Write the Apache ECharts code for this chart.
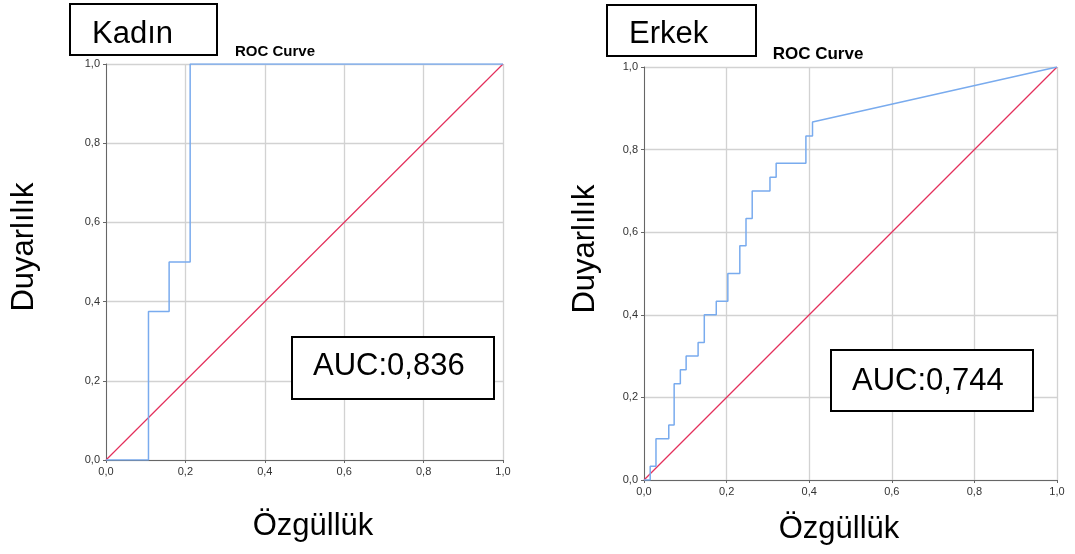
<!DOCTYPE html>
<html>
<head>
<meta charset="utf-8">
<script src="https://cdn.jsdelivr.net/npm/echarts@6/dist/echarts.min.js"></script>
<style>
  html, body { margin: 0; padding: 0; background: #fff; }
  #chart { width: 1075px; height: 554px; }
</style>
</head>
<body>
<div id="chart"></div>
<script>
// Eksen tikleri
const axisTicks = [0, 0.2, 0.4, 0.6, 0.8, 1.0]

// Kadın ROC noktaları (1 - özgüllük, duyarlılık)
const kadinFpr = [0, 0.107, 0.107, 0.159, 0.159, 0.212, 0.212, 1]
const kadinTpr = [0, 0, 0.375, 0.375, 0.5, 0.5, 1, 1]

// Erkek ROC noktaları
const erkekFpr = [0, 0.015, 0.015, 0.029, 0.029, 0.06, 0.06, 0.073, 0.073, 0.088, 0.088, 0.102, 0.102, 0.131, 0.131, 0.146, 0.146, 0.175, 0.175, 0.203, 0.203, 0.232, 0.232, 0.247, 0.247, 0.262, 0.262, 0.305, 0.305, 0.32, 0.32, 0.392, 0.392, 0.408, 0.408, 1]
const erkekTpr = [0, 0, 0.033, 0.033, 0.1, 0.1, 0.133, 0.133, 0.233, 0.233, 0.267, 0.267, 0.3, 0.3, 0.333, 0.333, 0.4, 0.4, 0.433, 0.433, 0.5, 0.5, 0.567, 0.567, 0.633, 0.633, 0.7, 0.7, 0.733, 0.733, 0.767, 0.767, 0.833, 0.833, 0.867, 1]

// Referans çizgisi
const refFpr = [0, 1]
const refTpr = [0, 1]

const groupLabels = ['Kadın', 'Erkek']
const aucLabels = ['AUC:0,836', 'AUC:0,744']
const chartTitle = 'ROC Curve'
const xName = 'Özgüllük'
const yName = 'Duyarlılık'

const FONT = '"Liberation Sans", Arial, sans-serif'
const BLUE = '#79abee'
const RED = '#e3305c'

const toPairs = (xs, ys) => xs.map((x, i) => [x, ys[i]])
const fmt = (v) => v.toFixed(1).replace('.', ',')

const makeAxis = (gridIndex) => ({
  type: 'value',
  gridIndex,
  min: axisTicks[0],
  max: axisTicks[axisTicks.length - 1],
  interval: 0.2,
  axisLine: { show: true, lineStyle: { color: '#666', width: 1 } },
  axisTick: { show: true, length: 3, lineStyle: { color: '#666' } },
  axisLabel: { fontFamily: FONT, fontSize: 11, color: '#333', margin: 6, formatter: fmt },
  splitLine: { show: true, lineStyle: { color: '#d2d2d2', width: 1.3 } },
})

const boxText = (x, y, w, h, label, tx, ty) => [
  {
    type: 'rect',
    shape: { x, y, width: w, height: h },
    style: { fill: '#fff', stroke: '#000', lineWidth: 2 },
    z: 100,
  },
  {
    type: 'text',
    x: tx,
    y: ty,
    style: { text: label, font: '31px ' + FONT, fill: '#000', textVerticalAlign: 'middle' },
    z: 101,
  },
]

const plainText = (x, y, label, size, bold, rotation) => ({
  type: 'text',
  x,
  y,
  rotation: rotation || 0,
  style: {
    text: label,
    font: (bold ? 'bold ' : '') + size + 'px ' + FONT,
    fill: '#000',
    textAlign: 'center',
    textVerticalAlign: 'middle',
  },
  z: 100,
})

const initChart = () => {
  const chart = echarts.init(document.getElementById('chart'))

  const option = {
    animation: false,
    backgroundColor: '#fff',
    grid: [
      { left: 106, top: 64, width: 397, height: 396 },
      { left: 644, top: 67, width: 413, height: 413 },
    ],
    xAxis: [makeAxis(0), makeAxis(1)],
    yAxis: [makeAxis(0), makeAxis(1)],
    series: [
      {
        type: 'line', xAxisIndex: 0, yAxisIndex: 0, symbol: 'none',
        data: toPairs(refFpr, refTpr), lineStyle: { color: RED, width: 1.2 },
      },
      {
        type: 'line', xAxisIndex: 0, yAxisIndex: 0, symbol: 'none',
        data: toPairs(kadinFpr, kadinTpr), lineStyle: { color: BLUE, width: 1.5 },
      },
      {
        type: 'line', xAxisIndex: 1, yAxisIndex: 1, symbol: 'none',
        data: toPairs(refFpr, refTpr), lineStyle: { color: RED, width: 1.2 },
      },
      {
        type: 'line', xAxisIndex: 1, yAxisIndex: 1, symbol: 'none',
        data: toPairs(erkekFpr, erkekTpr), lineStyle: { color: BLUE, width: 1.5 },
      },
    ],
    graphic: [
      ...boxText(70, 4, 147, 51, groupLabels[0], 92, 34),
      ...boxText(607, 5, 149, 51, groupLabels[1], 629, 34),
      ...boxText(292, 337, 202, 62, aucLabels[0], 313, 366),
      ...boxText(831, 350, 202, 61, aucLabels[1], 852, 381),
      plainText(275, 52, chartTitle, 15, true),
      plainText(818, 54, chartTitle, 17, true),
      plainText(313, 526, xName, 31, false),
      plainText(839, 529, xName, 31, false),
      plainText(24, 247, yName, 31, false, Math.PI / 2),
      plainText(585, 249, yName, 31, false, Math.PI / 2),
    ],
  }

  chart.setOption(option)
}

initChart()
</script>
</body>
</html>
